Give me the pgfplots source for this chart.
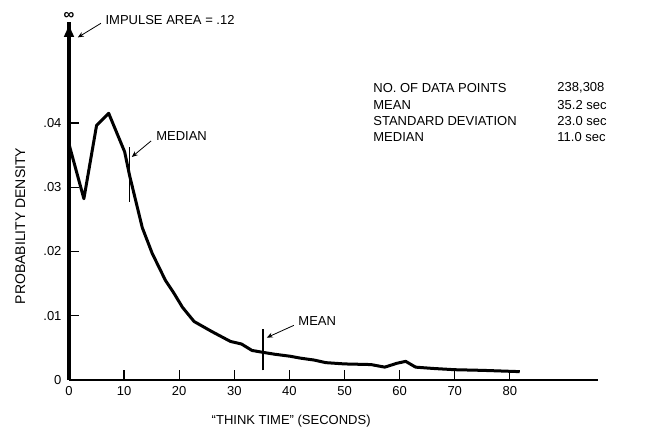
\documentclass[border=0pt]{standalone}
\usepackage{pgfplots}
\pgfplotsset{compat=1.18}
\usepackage{fontspec}
\setmainfont{Liberation Sans}
\usetikzlibrary{arrows.meta}
\pgfplotstableread{
x y
0 0.0367
2.7 0.0282
5.0 0.0396
7.2 0.0415
10.1 0.0355
11.0 0.0318
13.3 0.0237
15.1 0.0197
17.5 0.0155
18.9 0.0137
20.6 0.0113
22.7 0.0091
26.0 0.0075
29.3 0.0060
31.3 0.0056
33.2 0.0046
35.2 0.0043
37.4 0.0040
40.1 0.0037
42.0 0.0034
44.5 0.0031
46.6 0.0027
50.0 0.0025
54.8 0.0024
57.3 0.0020
59.5 0.0026
61.1 0.0029
62.9 0.0020
66.0 0.0018
70.0 0.0016
75.0 0.0015
81.8 0.0013
}\curve
\begin{document}
\begin{tikzpicture}[x=1pt,y=1pt,font=\fontsize{13}{15}\selectfont]
\useasboundingbox (-69,-50) rectangle (576,380);
\begin{axis}[
  at={(0pt,0pt)}, anchor=south west,
  scale only axis, width=529pt, height=358pt,
  xmin=0, xmax=96, ymin=0, ymax=0.0557,
  axis x line=bottom, axis y line=left,
  x axis line style={-, line width=1.6pt},
  y axis line style={-, line width=4.5pt},
  tick align=inside, major tick length=9.5pt,
  every tick/.style={black, line width=1.3pt},
  xtick={0,10,...,80}, xticklabels={0,10,20,30,40,50,60,70,80},
  ytick={0,0.01,0.02,0.03,0.04}, yticklabels={0,.01,.02,.03,.04},
  scaled y ticks=false,
  xticklabel style={yshift=-3pt},
  yticklabel style={xshift=-4pt},
  clip=false,
  xlabel={``THINK TIME'' (SECONDS)},
  xlabel style={at={(axis description cs:0.42,-0.115)}, anchor=center},
  ylabel={PROBABILITY DENSITY},
  ylabel style={at={(axis description cs:-0.092,0.43)}, anchor=center, font=\fontsize{14}{16}\selectfont},
]
\addplot[line width=3pt, line join=round, black] table[x=x,y=y] {\curve};
\addplot[line width=4.5pt, black, -{Latex[length=15pt,width=11pt]}] coordinates {(0,0) (0,0.0557)};
\node[anchor=south, inner sep=2pt, font=\fontsize{15}{17}\selectfont\bfseries] at (axis cs:0,0.0557) {∞};
\node[anchor=west] at (axis cs:6.0,0.0560) {IMPULSE AREA = .12};
\draw[line width=0.8pt, -{Stealth[length=6pt,width=5pt]}] (axis cs:5.8,0.0555) -- (axis cs:1.6,0.0533);
% median
\draw[line width=1.2pt] (axis cs:11.0,0.0277) -- (axis cs:11.0,0.0362);
\node[anchor=west] at (axis cs:15.2,0.0380) {MEDIAN};
\draw[line width=0.8pt, -{Stealth[length=6pt,width=5pt]}] (axis cs:14.9,0.0372) -- (axis cs:11.4,0.0347);
% mean
\draw[line width=1.2pt] (axis cs:35.2,0.0015) -- (axis cs:35.2,0.0080);
\node[anchor=west] at (axis cs:41.0,0.0092) {MEAN};
\draw[line width=0.8pt, -{Stealth[length=6pt,width=5pt]}] (axis cs:40.8,0.0085) -- (axis cs:35.9,0.0066);
% stats
\node[anchor=west] at (axis cs:54.6,0.0454) {NO. OF DATA POINTS};
\node[anchor=west] at (axis cs:54.6,0.0428) {MEAN};
\node[anchor=west] at (axis cs:54.6,0.0403) {STANDARD DEVIATION};
\node[anchor=west] at (axis cs:54.6,0.0378) {MEDIAN};
\node[anchor=west] at (axis cs:88.0,0.0454) {238,308};
\node[anchor=west] at (axis cs:88.0,0.0428) {35.2 sec};
\node[anchor=west] at (axis cs:88.0,0.0403) {23.0 sec};
\node[anchor=west] at (axis cs:88.0,0.0378) {11.0 sec};
\end{axis}
\end{tikzpicture}
\end{document}
